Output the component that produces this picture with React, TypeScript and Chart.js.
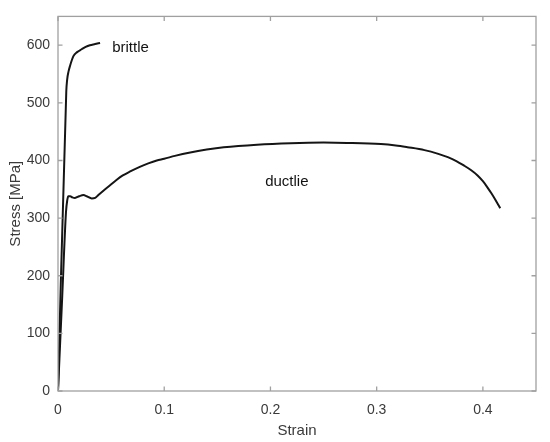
import React, { useEffect, useRef } from "react";
import { Chart, registerables } from "chart.js";

Chart.register(...registerables);

const strainBrittle = [0, 0.0078, 0.0086, 0.0100, 0.0113, 0.0145, 0.0180, 0.0223, 0.0260, 0.0300, 0.0350, 0.0396];
const stressBrittle = [0, 520, 540, 555, 564, 581, 588, 593, 597, 600, 602, 604];

const strainDuctile = [
  0, 0.004, 0.0075, 0.0088, 0.0097, 0.0115, 0.0135, 0.016, 0.020, 0.024, 0.027, 0.0318, 0.035, 0.038,
  0.043, 0.049, 0.055, 0.061, 0.068, 0.077, 0.085, 0.093, 0.1, 0.11, 0.1245, 0.14, 0.156, 0.1874, 0.219,
  0.25, 0.272, 0.304, 0.318, 0.329, 0.345, 0.358, 0.367, 0.375, 0.382, 0.389, 0.395, 0.400, 0.4044,
  0.408, 0.412, 0.4163,
];
const stressDuctile = [
  0, 165, 310, 332, 338, 338, 336, 335, 338, 340, 338, 334, 335, 340,
  348, 357, 366, 374, 381, 389, 395, 400, 403, 408, 414, 419, 423, 427.5, 430,
  431, 430.5, 428.5, 426, 423, 418, 411.5, 405.7, 399, 391.4, 383, 374, 364, 353,
  343, 331, 317,
];

const xTicks = [0, 0.1, 0.2, 0.3, 0.4];
const yTicks = [0, 100, 200, 300, 400, 500, 600];
const xLimits = [0, 0.45];
const yLimits = [0, 650];

const labels = ["brittle", "ductlie"];
const labelStrain = [0.051, 0.195];
const labelStress = [595, 363];

const BOX = "#a0a0a0";
const TEXT = "#3a3a3a";

const boxPlugin = {
  id: "boxPlugin",
  afterDraw(chart: any) {
    const { ctx, chartArea: a, scales } = chart;
    const xs = scales.x;
    const ys = scales.y;
    ctx.save();
    ctx.strokeStyle = BOX;
    ctx.lineWidth = 1.3;
    ctx.strokeRect(a.left, a.top, a.right - a.left, a.bottom - a.top);
    const tl = 4.5;
    ctx.beginPath();
    xTicks.forEach((v) => {
      const px = xs.getPixelForValue(v);
      ctx.moveTo(px, a.bottom);
      ctx.lineTo(px, a.bottom - tl);
      ctx.moveTo(px, a.top);
      ctx.lineTo(px, a.top + tl);
    });
    yTicks.forEach((v) => {
      const py = ys.getPixelForValue(v);
      ctx.moveTo(a.left, py);
      ctx.lineTo(a.left + tl, py);
      ctx.moveTo(a.right, py);
      ctx.lineTo(a.right - tl, py);
    });
    ctx.stroke();
    ctx.fillStyle = "#111";
    ctx.font = "15px 'Liberation Sans', Arial, sans-serif";
    ctx.textAlign = "left";
    ctx.textBaseline = "middle";
    labels.forEach((t, i) => {
      ctx.fillText(t, xs.getPixelForValue(labelStrain[i]), ys.getPixelForValue(labelStress[i]));
    });
    ctx.restore();
  },
};

export default function App() {
  const ref = useRef<HTMLCanvasElement>(null);
  useEffect(() => {
    if (!ref.current) return;
    const brittle = strainBrittle.map((x, i) => ({ x, y: stressBrittle[i] }));
    const ductile = strainDuctile.map((x, i) => ({ x, y: stressDuctile[i] }));
    const font = { family: "'Liberation Sans', Arial, sans-serif", size: 14 };
    const chart = new Chart(ref.current, {
      type: "scatter",
      data: {
        datasets: [
          { data: brittle, showLine: true, borderColor: "#151515", borderWidth: 2, pointRadius: 0, cubicInterpolationMode: "monotone" },
          { data: ductile, showLine: true, borderColor: "#151515", borderWidth: 2, pointRadius: 0, cubicInterpolationMode: "monotone" },
        ],
      },
      options: {
        animation: false,
        responsive: false,
        events: [],
        layout: { padding: { left: 0, right: 14, top: 13, bottom: 0 } },
        plugins: { legend: { display: false }, tooltip: { enabled: false } },
        scales: {
          x: {
            type: "linear",
            min: xLimits[0],
            max: xLimits[1],
            grid: { display: false, drawTicks: false },
            border: { display: false },
            afterFit: (s: any) => { s.height = 51; },
            afterBuildTicks: (s: any) => { s.ticks = xTicks.map((v) => ({ value: v })); },
            ticks: { font, color: TEXT, padding: 11, maxRotation: 0, callback: (v: any) => String(v) },
            title: { display: true, text: "Strain", font: { ...font, size: 15 }, color: TEXT, padding: { top: 0, bottom: 2 } },
          },
          y: {
            type: "linear",
            min: yLimits[0],
            max: yLimits[1],
            grid: { display: false, drawTicks: false },
            border: { display: false },
            afterFit: (s: any) => { s.width = 58; },
            afterBuildTicks: (s: any) => { s.ticks = yTicks.map((v) => ({ value: v })); },
            ticks: { font, color: TEXT, padding: 8, callback: (v: any) => String(v) },
            title: { display: true, text: "Stress [MPa]", font: { ...font, size: 15 }, color: TEXT, padding: { top: 7, bottom: 0 } },
          },
        },
      },
      plugins: [boxPlugin],
    });
    return () => chart.destroy();
  }, []);
  return (
    <div style={{ position: "fixed", left: 0, top: 0, width: 550, height: 442, background: "#fff" }}>
      <canvas ref={ref} width={550} height={442} style={{ width: 550, height: 442 }} />
    </div>
  );
}
